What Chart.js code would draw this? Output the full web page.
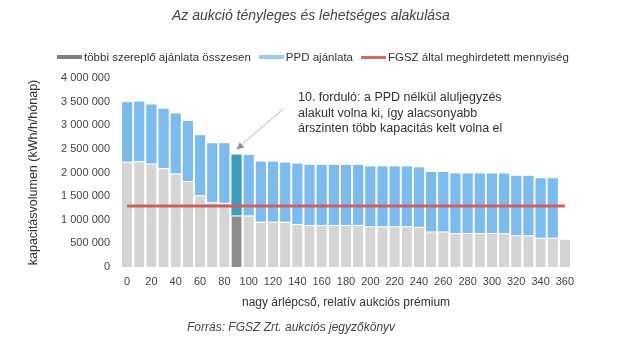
<!DOCTYPE html>
<html lang="hu">
  <head>
    <meta charset="utf-8" />
    <title>Az aukció tényleges és lehetséges alakulása</title>
    <script src="https://cdn.jsdelivr.net/npm/chart.js@4.4.0/dist/chart.umd.min.js"></script>
    <style>
      html, body {
        margin: 0;
        padding: 0;
        background: #fff;
        font-family: "Liberation Sans", Arial, sans-serif;
        color: #333;
      }
      #page {
        position: relative;
        width: 621px;
        height: 344px;
        overflow: hidden;
      }
      #chartWrapper {
        position: absolute;
        left: 0;
        top: 0;
        width: 621px;
        height: 344px;
      }
      .title {
        position: absolute;
        left: 172px;
        top: 7px;
        font-size: 14px;
        font-style: italic;
        color: #444;
        white-space: nowrap;
      }
      .source {
        position: absolute;
        left: 187px;
        top: 320px;
        font-size: 12px;
        font-style: italic;
        color: #444;
        white-space: nowrap;
      }
      .legend {
        position: absolute;
        left: 57px;
        top: 51px;
        font-size: 11.5px;
        color: #333;
        white-space: nowrap;
        display: flex;
        align-items: center;
      }
      .legend span.sw {
        display: inline-block;
        width: 25px;
        height: 4px;
        margin-right: 2px;
      }
      .legend span.item {
        display: inline-flex;
        align-items: center;
        margin-right: 8px;
      }
      .note {
        position: absolute;
        left: 298px;
        top: 90px;
        font-size: 12.5px;
        line-height: 15.5px;
        color: #333;
        white-space: nowrap;
      }
    </style>
  </head>
  <body>
    <div id="page">
      <div id="chartWrapper"><canvas id="aukcioChart"></canvas></div>
      <div class="title">Az aukció tényleges és lehetséges alakulása</div>
      <div class="legend">
        <span class="item"><span class="sw" style="background:#7f7f7f"></span>többi szereplő ajánlata összesen</span>
        <span class="item"><span class="sw" style="background:#9ccbf2"></span>PPD ajánlata</span>
        <span class="item"><span class="sw" style="background:#d46a6a;height:3px"></span>FGSZ által meghirdetett mennyiség</span>
      </div>
      <div class="note">
        10. forduló: a PPD nélkül aluljegyzés<br />
        alakult volna ki, így alacsonyabb<br />
        árszinten több kapacitás kelt volna el
      </div>
      <div class="source">Forrás: FGSZ Zrt. aukciós jegyzőkönyv</div>
    </div>

    <script>
      // --- adatok (leolvasva) ---
      const categories = [
        "0", "10", "20", "30", "40", "50", "60", "70", "80", "90",
        "100", "110", "120", "130", "140", "150", "160", "170", "180", "190",
        "200", "210", "220", "230", "240", "250", "260", "270", "280", "290",
        "300", "310", "320", "330", "340", "350", "360",
      ];

      // többi szereplő ajánlata összesen
      const othersBids = [
        2230000, 2240000, 2190000, 2090000, 1980000, 1820000, 1520000, 1370000, 1360000, 1090000,
        1090000, 960000, 960000, 960000, 910000, 890000, 890000, 890000, 890000, 890000,
        860000, 860000, 860000, 860000, 850000, 750000, 750000, 720000, 720000, 720000,
        720000, 720000, 670000, 670000, 620000, 620000, 600000,
      ];

      // PPD ajánlata
      const ppdBids = [
        1260000, 1260000, 1250000, 1260000, 1270000, 1270000, 1270000, 1250000, 1260000, 1290000,
        1280000, 1270000, 1270000, 1250000, 1280000, 1270000, 1270000, 1270000, 1270000, 1270000,
        1270000, 1270000, 1270000, 1270000, 1260000, 1260000, 1260000, 1260000, 1260000, 1260000,
        1260000, 1260000, 1260000, 1260000, 1260000, 1260000, 0,
      ];

      // FGSZ által meghirdetett mennyiség (vízszintes vonal, első és utolsó kategória)
      const fgszOffer = [1290000, 1290000];

      const yTicks = [0, 500000, 1000000, 1500000, 2000000, 2500000, 3000000, 3500000, 4000000];

      const highlightIndex = 9; // 10. forduló

      // --- színek ---
      const grayColors = categories.map((c, i) => (i === highlightIndex ? "#8d8d8d" : "#d5d5d5"));
      const blueColors = categories.map((c, i) => (i === highlightIndex ? "#3c9dc1" : "#7cbbee"));

      function fmt(v) {
        return String(v).replace(/\B(?=(\d{3})+(?!\d))/g, " ");
      }

      // nyíl a kiemelt oszlophoz
      const arrowPlugin = {
        id: "arrow",
        afterDatasetsDraw(chart) {
          const { ctx, scales } = chart;
          const x = scales.x.getPixelForValue(highlightIndex);
          const y = scales.y.getPixelForValue(othersBids[highlightIndex] + ppdBids[highlightIndex]) - 5;
          const sx = x + 47;
          const sy = y - 41;
          ctx.save();
          ctx.strokeStyle = "#b5b5b5";
          ctx.lineWidth = 1;
          ctx.beginPath();
          ctx.moveTo(sx, sy);
          ctx.lineTo(x + 3, y - 3);
          ctx.stroke();
          const ang = Math.atan2(y - sy, x - sx);
          ctx.fillStyle = "#8f8f8f";
          ctx.beginPath();
          ctx.moveTo(x, y);
          ctx.lineTo(x - 8 * Math.cos(ang - 0.45), y - 8 * Math.sin(ang - 0.45));
          ctx.lineTo(x - 8 * Math.cos(ang + 0.45), y - 8 * Math.sin(ang + 0.45));
          ctx.closePath();
          ctx.fill();
          ctx.restore();
        },
      };

      const ctx = document.getElementById("aukcioChart").getContext("2d");

      new Chart(ctx, {
        type: "bar",
        data: {
          labels: categories,
          datasets: [
            {
              type: "line",
              label: "FGSZ által meghirdetett mennyiség",
              data: [
                { x: categories[0], y: fgszOffer[0] },
                { x: categories[categories.length - 1], y: fgszOffer[1] },
              ],
              borderColor: "#d05e5e",
              borderWidth: 3,
              pointRadius: 0,
              stack: "line",
              order: 0,
            },
            {
              label: "többi szereplő ajánlata összesen",
              data: othersBids,
              backgroundColor: grayColors,
              borderColor: "#ffffff",
              borderWidth: { top: 1, left: 0, right: 0, bottom: 0 },
              borderSkipped: false,
              stack: "bids",
              order: 1,
            },
            {
              label: "PPD ajánlata",
              data: ppdBids,
              backgroundColor: blueColors,
              borderWidth: 0,
              stack: "bids",
              order: 1,
            },
          ],
        },
        options: {
          responsive: true,
          maintainAspectRatio: false,
          animation: false,
          layout: { padding: { left: 0, right: 50, top: 78, bottom: 34 } },
          datasets: {
            bar: { barPercentage: 0.84, categoryPercentage: 1 },
          },
          plugins: {
            legend: { display: false },
            tooltip: { enabled: false },
          },
          scales: {
            x: {
              stacked: true,
              grid: { display: false, drawTicks: false },
              border: { display: false },
              ticks: {
                autoSkip: false,
                maxRotation: 0,
                padding: 8,
                color: "#444",
                font: { family: "Liberation Sans", size: 11 },
                callback: (val, idx) => (idx % 2 === 0 ? categories[idx] : ""),
              },
              title: {
                display: true,
                text: "nagy árlépcső, relatív aukciós prémium",
                color: "#333",
                font: { family: "Liberation Sans", size: 12 },
                padding: { top: 4, bottom: 0 },
              },
              afterFit: (s) => {
                s.height = 43;
              },
            },
            y: {
              stacked: true,
              min: 0,
              max: 4000000,
              grid: { display: false, drawTicks: false },
              border: { display: false },
              afterBuildTicks: (s) => {
                s.ticks = yTicks.map((v) => ({ value: v }));
              },
              ticks: {
                padding: 11,
                color: "#444",
                font: { family: "Liberation Sans", size: 11 },
                callback: (v) => fmt(v),
              },
              title: {
                display: true,
                text: "kapacitásvolumen (kWh/h/hónap)",
                color: "#333",
                font: { family: "Liberation Sans", size: 12.5 },
                padding: { top: 26, bottom: 0 },
              },
              afterFit: (s) => {
                s.width = 121;
              },
            },
          },
        },
        plugins: [arrowPlugin],
      });
    </script>
  </body>
</html>
